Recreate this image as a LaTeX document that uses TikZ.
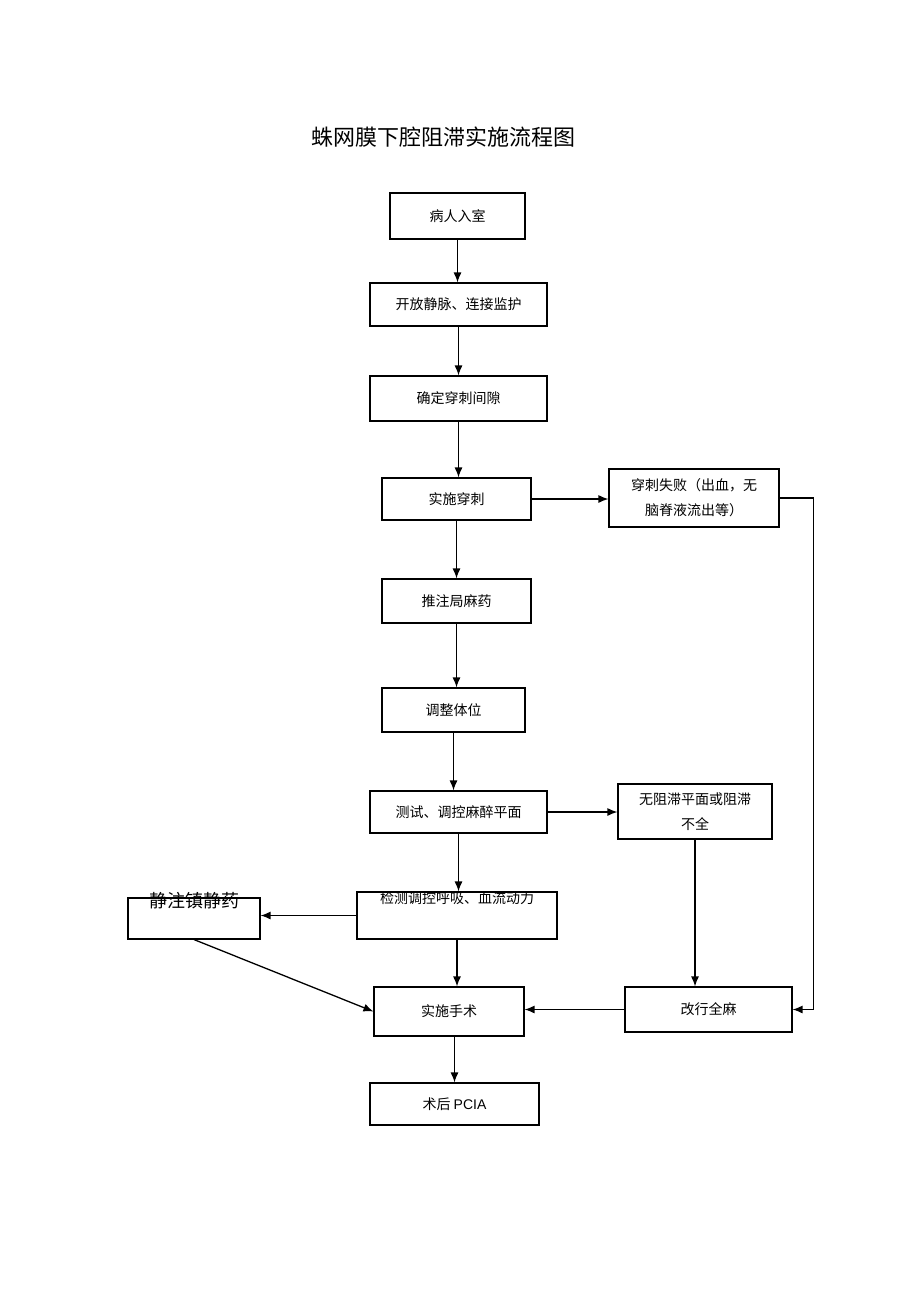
\documentclass[tikz,border=0pt]{standalone}
\usepackage{fontspec}
\setmainfont{Liberation Sans}
\newfontfamily\cjk{Noto Sans CJK SC}
\usetikzlibrary{arrows,arrows.meta}
\tikzset{
  box/.style={draw, rectangle, line width=1.1pt, inner sep=1pt, align=center,
    font=\cjk\fontsize{14}{25}\selectfont},
  flow/.style={-{Latex[length=10pt,width=8pt]}, line width=1.3pt}
}

\begin{document}
\begin{tikzpicture}[x=1pt,y=-1pt]
   \useasboundingbox (0,0) rectangle (920,1303);
   \node[font=\cjk\fontsize{22}{24}\selectfont] (title) at (443,137) {蛛网膜下腔阻滞实施流程图};

   \node[box, minimum width=135, minimum height=46] (rs) at (457.5,216) {病人入室};
   \node[box, minimum width=177, minimum height=43] (kf) at (458.5,304.5) {开放静脉、连接监护};
   \node[box, minimum width=177, minimum height=45] (qd) at (458.5,398.5) {确定穿刺间隙};
   \node[box, minimum width=149, minimum height=42] (cc) at (456.5,499) {实施穿刺};
   \node[box, minimum width=170, minimum height=58] (sb) at (694,498) {穿刺失败（出血，无\\脑脊液流出等）};
   \node[box, minimum width=149, minimum height=44] (tz) at (456.5,601) {推注局麻药};
   \node[box, minimum width=143, minimum height=44] (tw) at (453.5,710) {调整体位};
   \node[box, minimum width=177, minimum height=42] (ck) at (458.5,812) {测试、调控麻醉平面};
   \node[box, minimum width=154, minimum height=55] (wz) at (695,811.5) {无阻滞平面或阻滞\\不全};
   \node[box, minimum width=200, minimum height=47,
     label={[anchor=center, yshift=-7pt, font=\cjk\fontsize{14}{16}\selectfont]north:检测调控呼吸、血流动力}] (jc) at (457,915.5) {};
   \node[box, minimum width=132, minimum height=41,
     label={[anchor=center, yshift=-3pt, font=\cjk\fontsize{18}{20}\selectfont]north:静注镇静药}] (zj) at (194,918.5) {};
   \node[box, minimum width=150, minimum height=49] (ss) at (449,1011.5) {实施手术};
   \node[box, minimum width=167, minimum height=45] (gx) at (708.5,1009.5) {改行全麻};
   \node[box, minimum width=169, minimum height=42] (sh) at (454.5,1104) {术后 {\fontspec{Liberation Sans}PCIA}};

   \draw[flow] (rs.south) -- (rs.south |- kf.north);
   \draw[flow] (kf.south) -- (kf.south |- qd.north);
   \draw[flow] (qd.south) -- (qd.south |- cc.north);
   \draw[flow] (cc.east) -- (cc.east -| sb.west);
   \draw[flow] (sb.east) -- ++(34,0) |- (gx.east);
   \draw[flow] (cc.south) -- (cc.south |- tz.north);
   \draw[flow] (tz.south) -- (tz.south |- tw.north);
   \draw[flow] (tw.south) -- (tw.south |- ck.north);
   \draw[flow] (ck.east) -- (ck.east -| wz.west);
   \draw[flow] (ck.south) -- (ck.south |- jc.north);
   \draw[flow] (jc.west) -- (jc.west -| zj.east);
   \draw[flow] (jc.south) -- (jc.south |- ss.north);
   \draw[flow] (zj.south) -- (ss.west);
   \draw[flow] (wz.south) -- (wz.south |- gx.north);
   \draw[flow] (gx.west) -- (gx.west -| ss.east);
   \draw[flow] (sh.north |- ss.south) -- (sh.north);
\end{tikzpicture}
\end{document}
